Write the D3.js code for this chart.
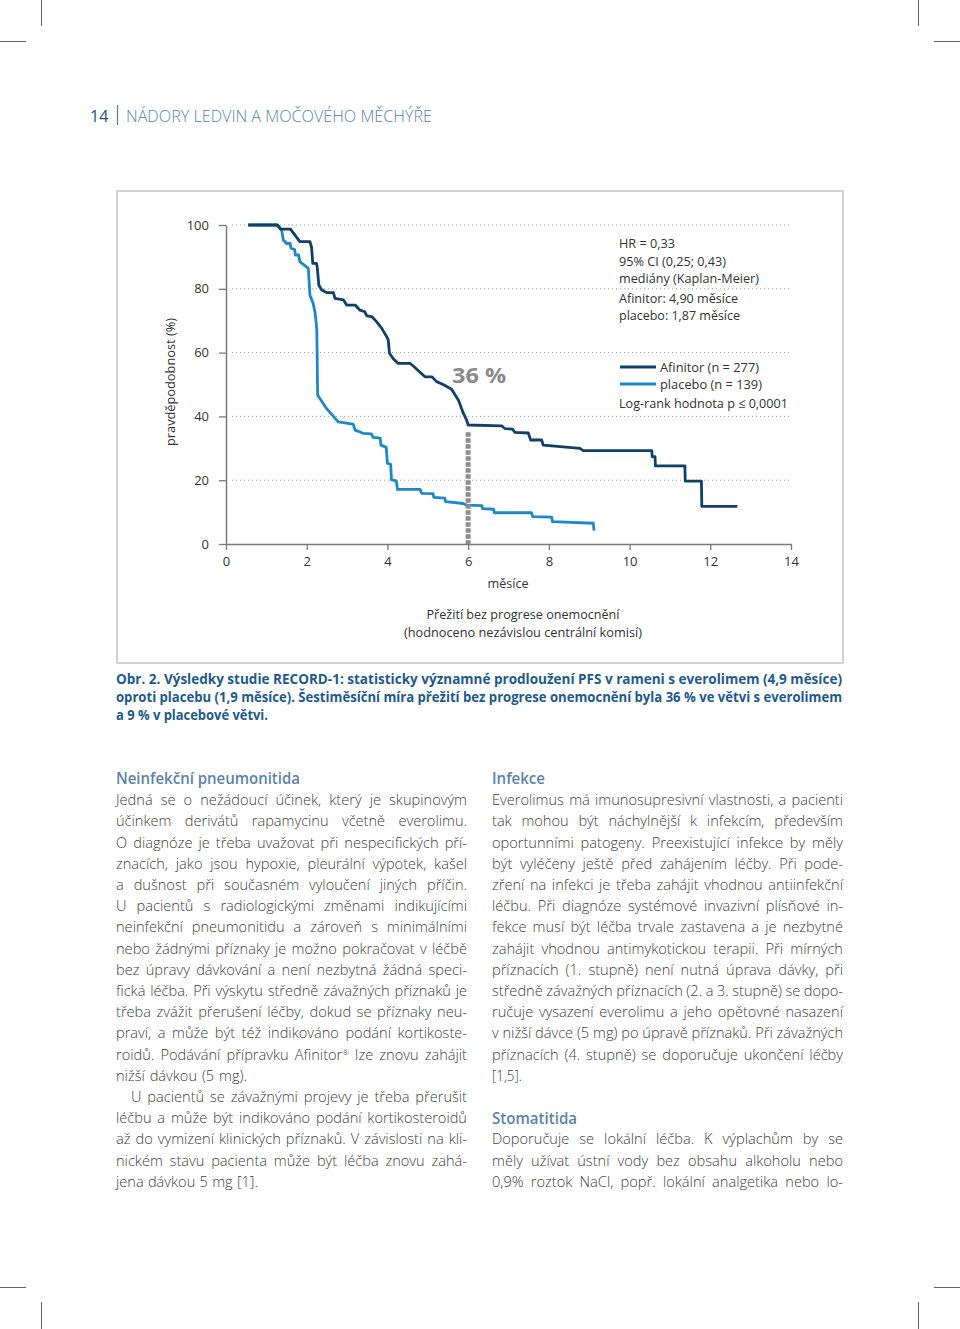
<!DOCTYPE html>
<html><head><meta charset="utf-8">
<script src="https://cdn.jsdelivr.net/npm/d3@7"></script>
<style>body{margin:0;background:#fff} svg{display:block} text{font-family:"Open Sans","Noto Sans",sans-serif}</style>
</head><body>
<svg id="page" width="960" height="1329"></svg>
<script>
// ---------------- DATA ----------------
const xTicks = [0, 2, 4, 6, 8, 10, 12, 14];
const yTicks = [0, 20, 40, 60, 80, 100];
const gridValues = [20, 40, 60, 80, 100];
// Kaplan–Meier traces [month, % progression-free]
const afinitorSteps = [[0.55,100],[1.28,100],[1.35,98.7],[1.60,98.7],[1.70,97],[1.83,94.8],[2.08,94.8],[2.12,93],[2.15,88],[2.24,88],[2.26,86.9],[2.30,81.2],[2.36,79.8],[2.49,78.8],[2.66,78.8],[2.70,77],[2.91,76.5],[2.99,74.9],[3.20,74.9],[3.32,73.3],[3.44,72.8],[3.49,71.5],[3.61,71.3],[3.73,69.7],[3.86,67.6],[3.98,65],[4.02,64],[4.05,59.8],[4.15,58],[4.27,56.6],[4.56,56.6],[4.64,55.8],[4.93,52.4],[5.10,52.4],[5.22,50.9],[5.38,50],[5.59,48.5],[5.76,45.1],[5.88,41],[5.96,38.9],[6.00,37.3],[6.83,37],[6.91,36.2],[7.10,36],[7.16,35],[7.49,34.8],[7.55,32.6],[7.82,32.6],[7.86,31],[8.77,30],[8.85,29.3],[10.55,29.3],[10.56,27.4],[10.63,27.4],[10.64,24.5],[11.37,24.5],[11.38,19.7],[11.78,19.7],[11.79,11.8],[12.67,11.8]];
const placeboSteps = [[0.55,100],[1.25,100],[1.33,99.2],[1.38,98.4],[1.42,95.3],[1.50,94.2],[1.59,94.2],[1.61,92.7],[1.70,92.3],[1.72,90.6],[1.80,90.6],[1.83,88.5],[1.93,87.5],[2.04,86.4],[2.08,78],[2.16,75.4],[2.21,72.3],[2.25,67.1],[2.26,58],[2.27,46.7],[2.49,42.5],[2.78,38.3],[3.15,37.6],[3.20,35.7],[3.40,34.7],[3.60,34.5],[3.65,33.4],[3.82,33.2],[3.84,31],[3.97,30.3],[4.00,25.3],[4.08,25],[4.10,20.1],[4.22,19.8],[4.25,17.1],[4.81,17.1],[4.85,15.9],[5.13,15.8],[5.15,14.6],[5.42,14.4],[5.44,13.3],[5.88,12.7],[5.96,12.2],[6.34,12],[6.36,11.1],[6.63,10.9],[6.65,9.8],[7.57,9.8],[7.60,8.6],[8.07,8.4],[8.09,7],[9.10,6.5],[9.12,4.2]];
const marker = {month: 6, top: 35, label: "36 %"};
const infoLines = ["HR = 0,33", "95% CI (0,25; 0,43)", "mediány (Kaplan-Meier)", "Afinitor: 4,90 měsíce", "placebo: 1,87 měsíce"];
const legendItems = ["Afinitor (n = 277)", "placebo (n = 139)"];
const logRank = "Log-rank hodnota p ≤ 0,0001";
const subtitleLines = ["Přežití bez progrese onemocnění", "(hodnoceno nezávislou centrální komisí)"];
const captionLines = ["Obr. 2. Výsledky studie RECORD-1: statisticky významné prodloužení PFS v rameni s everolimem (4,9 měsíce)",
  "oproti placebu (1,9 měsíce). Šestiměsíční míra přežití bez progrese onemocnění byla 36 % ve větvi s everolimem",
  "a 9 % v placebové větvi."];
const leftCol = ["Jedná se o nežádoucí účinek, který je skupinovým","účinkem derivátů rapamycinu včetně everolimu.","O diagnóze je třeba uvažovat při nespecifických pří-","znacích, jako jsou hypoxie, pleurální výpotek, kašel","a dušnost při současném vyloučení jiných příčin.","U pacientů s radiologickými změnami indikujícími","neinfekční pneumonitidu a zároveň s minimálními","nebo žádnými příznaky je možno pokračovat v léčbě","bez úpravy dávkování a není nezbytná žádná speci-","fická léčba. Při výskytu středně závažných příznaků je","třeba zvážit přerušení léčby, dokud se příznaky neu-","praví, a může být též indikováno podání kortikoste-","roidů. Podávání přípravku Afinitor® lze znovu zahájit","nižší dávkou (5 mg).","U pacientů se závažnými projevy je třeba přerušit","léčbu a může být indikováno podání kortikosteroidů","až do vymizení klinických příznaků. V závislosti na kli-","nickém stavu pacienta může být léčba znovu zahá-","jena dávkou 5 mg [1]."];
const rightCol = ["Everolimus má imunosupresivní vlastnosti, a pacienti","tak mohou být náchylnější k infekcím, především","oportunními patogeny. Preexistující infekce by měly","být vyléčeny ještě před zahájením léčby. Při pode-","zření na infekci je třeba zahájit vhodnou antiinfekční","léčbu. Při diagnóze systémové invazivní plísňové in-","fekce musí být léčba trvale zastavena a je nezbytné","zahájit vhodnou antimykotickou terapii. Při mírných","příznacích (1. stupně) není nutná úprava dávky, při","středně závažných příznacích (2. a 3. stupně) se dopo-","ručuje vysazení everolimu a jeho opětovné nasazení","v nižší dávce (5 mg) po úpravě příznaků. Při závažných","příznacích (4. stupně) se doporučuje ukončení léčby","[1,5].","","","Doporučuje se lokální léčba. K výplachům by se","měly užívat ústní vody bez obsahu alkoholu nebo","0,9% roztok NaCl, popř. lokální analgetika nebo lo-"];

// ---------------- DRAWING ----------------
const svg = d3.select("#page");
const ink = "#333", grid = "#9a9a9a", axisCol = "#7a7a7a";
const darkBlue = "#123e6a", lightBlue = "#1d88c6";

function fitText(sel, target, justify) {
  const n = sel.node();
  const w = n.getComputedTextLength();
  const spaces = (n.textContent.match(/ /g) || []).length;
  if (justify && spaces > 0 && (target - w) / spaces > -1.2) {
    sel.style("word-spacing", ((target - w) / spaces) + "px");
  } else {
    sel.attr("textLength", target).attr("lengthAdjust", "spacingAndGlyphs");
  }
}

// crop marks
const crop = [[41.5,0,41.5,26],[0,41.5,26,41.5],[918.5,0,918.5,26],[934,41.5,960,41.5],
              [0,1287.5,26,1287.5],[41.5,1302,41.5,1329],[934,1287.5,960,1287.5],[918.5,1302,918.5,1329]];
svg.append("g").selectAll("line").data(crop).join("line")
  .attr("x1",d=>d[0]).attr("y1",d=>d[1]).attr("x2",d=>d[2]).attr("y2",d=>d[3])
  .attr("stroke","#666").attr("stroke-width",1);

// header
svg.append("text").attr("x",90).attr("y",116).attr("dy","0.36em").attr("font-size",16)
  .attr("fill","#1c4f82").text("14");
svg.append("line").attr("x1",117.5).attr("x2",117.5).attr("y1",105).attr("y2",125)
  .attr("stroke","#4f7fa9").attr("stroke-width",1.2);
fitText(svg.append("text").attr("x",126).attr("y",116).attr("dy","0.36em").attr("font-size",16)
  .attr("font-weight",300).attr("fill","#5583ab").text("NÁDORY LEDVIN A MOČOVÉHO MĚCHÝŘE"), 306, false);

// chart frame
svg.append("rect").attr("x",117).attr("y",191).attr("width",726).attr("height",472)
  .attr("fill","none").attr("stroke","#c4c4c4").attr("stroke-width",1.5);

const x = d3.scaleLinear().domain([0,14]).range([226,791]);
const y = d3.scaleLinear().domain([0,100]).range([544,225]);

// gridlines
svg.append("g").selectAll("line").data(gridValues).join("line")
  .attr("x1",x(0)+6).attr("x2",x(14)).attr("y1",d=>y(d)).attr("y2",d=>y(d))
  .attr("stroke",grid).attr("stroke-width",1).attr("stroke-dasharray","1,3");

// axes
const yAxis = svg.append("g").attr("transform",`translate(${x(0)},0)`)
  .call(d3.axisLeft(y).tickValues(yTicks).tickSize(7).tickSizeOuter(0).tickPadding(10).tickFormat(d3.format("d")));
const xAxis = svg.append("g").attr("transform",`translate(0,${y(0)})`)
  .call(d3.axisBottom(x).tickValues(xTicks).tickSize(6).tickSizeOuter(0).tickPadding(7).tickFormat(d3.format("d")));
[yAxis, xAxis].forEach(a => {
  a.select(".domain").attr("stroke",axisCol).attr("stroke-width",1.5);
  a.selectAll(".tick line").attr("stroke",axisCol).attr("stroke-width",1.3);
  a.selectAll(".tick text").attr("fill",ink).attr("font-size",13).attr("font-family",'"Open Sans",sans-serif');
});

// curves
const line = d3.line().x(d=>x(d[0])).y(d=>y(d[1])).curve(d3.curveLinear);
svg.append("path").datum(placeboSteps).attr("d",line).attr("fill","none")
  .attr("stroke",lightBlue).attr("stroke-width",2.8).attr("stroke-linejoin","round");
svg.append("path").datum(afinitorSteps).attr("d",line).attr("fill","none")
  .attr("stroke",darkBlue).attr("stroke-width",2.8).attr("stroke-linejoin","round");

// 6-month marker
svg.append("line").attr("x1",x(marker.month)).attr("x2",x(marker.month))
  .attr("y1",y(marker.top)).attr("y2",y(0))
  .attr("stroke","#8c8c8c").attr("stroke-width",5).attr("stroke-dasharray","4.4,1.6");
fitText(svg.append("text").attr("x",452).attr("y",375).attr("dy","0.36em").attr("font-size",22)
  .attr("font-weight",700).attr("fill","#8a8a8a").text(marker.label), 54, false);

// info block
const infoY = [243, 261, 278, 298, 315];
const infoW = [56, 107, 140, 119, 121];
infoLines.forEach((t,i)=>{
  fitText(svg.append("text").attr("x",619).attr("y",infoY[i]).attr("dy","0.36em").attr("font-size",13)
    .attr("fill",ink).text(t), infoW[i], false);
});
// legend
const legY = [367, 384], legW = [99, 102], legC = [darkBlue, lightBlue];
legendItems.forEach((t,i)=>{
  svg.append("line").attr("x1",620).attr("x2",656).attr("y1",legY[i]).attr("y2",legY[i])
    .attr("stroke",legC[i]).attr("stroke-width",2.8);
  fitText(svg.append("text").attr("x",660).attr("y",legY[i]).attr("dy","0.36em").attr("font-size",13)
    .attr("fill",ink).text(t), legW[i], false);
});
fitText(svg.append("text").attr("x",619).attr("y",403).attr("dy","0.36em").attr("font-size",13)
  .attr("fill",ink).text(logRank), 169, false);

// axis titles
fitText(svg.append("text").attr("transform","translate(170,382) rotate(-90)").attr("text-anchor","middle")
  .attr("dy","0.36em").attr("font-size",13).attr("fill",ink).text("pravděpodobnost (%)"), 128, false);
fitText(svg.append("text").attr("x",508).attr("y",583).attr("text-anchor","middle").attr("dy","0.36em")
  .attr("font-size",13).attr("fill",ink).text("měsíce"), 41, false);
const subY = [614, 632], subW = [193, 238];
subtitleLines.forEach((t,i)=>{
  fitText(svg.append("text").attr("x",523).attr("y",subY[i]).attr("text-anchor","middle").attr("dy","0.36em")
    .attr("font-size",13).attr("fill",ink).text(t), subW[i], false);
});

// caption
const capY = [679, 697, 715], capW = [726, 726, 152];
captionLines.forEach((t,i)=>{
  fitText(svg.append("text").attr("x",116).attr("y",capY[i]).attr("dy","0.36em").attr("font-size",14)
    .attr("font-weight",700).attr("fill","#1d5a8e").text(t), capW[i], false);
});

// body columns
const headCol = "#5a83ab", bodyCol = "#404040";
function heading(t, x0, y0, w) {
  fitText(svg.append("text").attr("x",x0).attr("y",y0).attr("dy","0.36em").attr("font-size",15.5)
    .attr("font-weight",600).attr("fill",headCol).text(t), w, false);
}
heading("Neinfekční pneumonitida", 116, 778, 184);
heading("Infekce", 492, 778, 53);
heading("Stomatitida", 492, 1118, 85);

function column(lines, x0, width, shortW, indentIdx) {
  lines.forEach((t,i)=>{
    if (!t) return;
    const ind = indentIdx.includes(i) ? 15 : 0;
    const el = svg.append("text").attr("x",x0+ind).attr("y",800+i*21.2).attr("dy","0.36em")
      .attr("font-size",14.6).attr("font-weight",300).attr("fill",bodyCol);
    if (t.includes("®")) {
      const parts = t.split("®");
      el.append("tspan").text(parts[0]);
      el.append("tspan").attr("font-size",8).attr("dy",-5).text("®");
      el.append("tspan").attr("dy",5).text(parts[1]);
    } else el.text(t);
    if (shortW[i] !== undefined) fitText(el, shortW[i], true);
    else fitText(el, width - ind, true);
  });
}
column(leftCol, 116, 351, {13: 131, 18: 142}, [14]);
column(rightCol, 492, 351, {13: 30}, []);
</script>
</body></html>
